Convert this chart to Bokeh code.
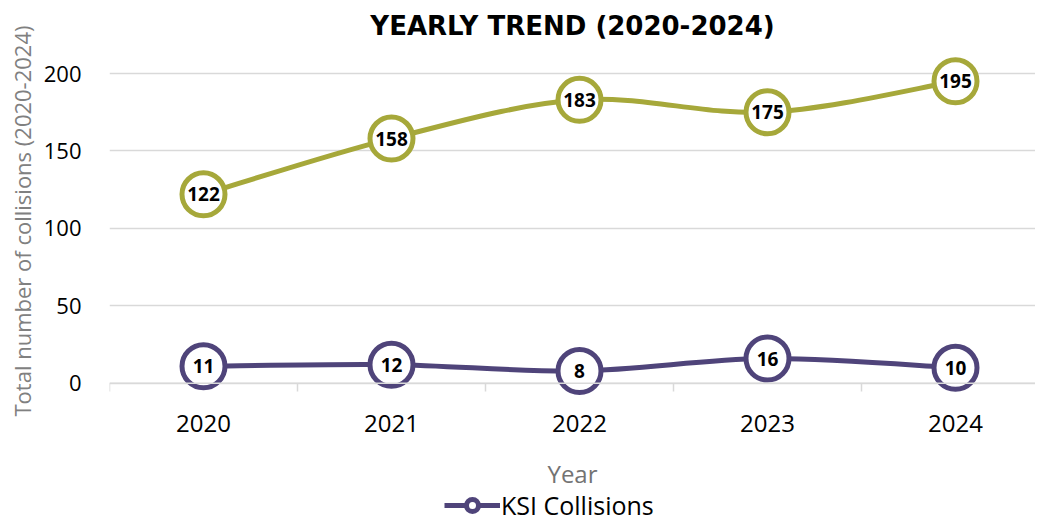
from bokeh.plotting import figure
from bokeh.models import (Range1d, FixedTicker, Span, Legend, LegendItem, ColumnDataSource, Title)
from bokeh.core.properties import value
from bokeh.embed import file_html
from bokeh.resources import INLINE

years = ["2020", "2021", "2022", "2023", "2024"]
total_collisions = [122, 158, 183, 175, 195]
ksi_collisions = [11, 12, 8, 16, 10]
y_ticks = [0, 50, 100, 150, 200]

OLIVE = "#a6a83a"
PURPLE = "#4f447a"
GRID = "#d9d9d9"
FONT = "Open Sans"

xs = list(range(len(years)))


def bezier_source(x, y):
    # Catmull-Rom style smoothing (like spreadsheet "smoothed line")
    n = len(x)
    d = dict(x0=[], y0=[], x1=[], y1=[], cx0=[], cy0=[], cx1=[], cy1=[])
    for i in range(n - 1):
        ip = max(i - 1, 0)
        inx = min(i + 2, n - 1)
        d["x0"].append(x[i]); d["y0"].append(y[i])
        d["x1"].append(x[i + 1]); d["y1"].append(y[i + 1])
        d["cx0"].append(x[i] + (x[i + 1] - x[ip]) / 6)
        d["cy0"].append(y[i] + (y[i + 1] - y[ip]) / 6)
        d["cx1"].append(x[i + 1] - (x[inx] - x[i]) / 6)
        d["cy1"].append(y[i + 1] - (y[inx] - y[i]) / 6)
    return ColumnDataSource(d)


FW = 926
p = figure(frame_width=FW, frame_height=481, output_backend="svg", toolbar_location=None,
           x_range=Range1d(-0.5, -0.5 + FW / 188), y_range=Range1d(-95, 215.5),
           min_border_left=0, min_border_right=0, min_border_top=0, min_border_bottom=0)
p.outline_line_color = None

p.title.text = "YEARLY TREND (2020-2024)"
p.title.align = "center"
p.title.text_font = "DejaVu Sans"
p.title.text_font_style = "bold"
p.title.text_font_size = "26px"
p.title.text_color = "black"
p.title.standoff = 17

# x axis sits on the zero line
p.xaxis.fixed_location = 0
p.xaxis.ticker = FixedTicker(ticks=xs, minor_ticks=[i - 0.5 for i in range(len(years) + 1)])
p.xaxis.major_label_overrides = {i: y for i, y in enumerate(years)}
p.xaxis.major_tick_line_color = None
p.xaxis.minor_tick_line_color = GRID
p.xaxis.minor_tick_line_width = 1.5
p.xaxis.minor_tick_in = 0
p.xaxis.minor_tick_out = 8
p.xaxis.axis_line_color = None
p.xaxis.major_label_text_font = FONT
p.xaxis.major_label_text_font_size = "24px"
p.xaxis.major_label_text_color = "black"
p.xaxis.major_label_standoff = 24
p.xaxis.axis_label = "Year"
p.xaxis.axis_label_text_font = FONT
p.xaxis.axis_label_text_font_style = "normal"
p.xaxis.axis_label_text_font_size = "24px"
p.xaxis.axis_label_text_color = "#737373"
p.xaxis.axis_label_standoff = 21

p.yaxis.ticker = FixedTicker(ticks=y_ticks)
p.yaxis.major_tick_line_color = None
p.yaxis.minor_tick_line_color = None
p.yaxis.axis_line_color = None
p.yaxis.major_label_text_font = FONT
p.yaxis.major_label_text_font_size = "22px"
p.yaxis.major_label_text_color = "black"
p.yaxis.major_label_standoff = 22

# y-axis title, anchored to the top of the plotting area
ytitle = Title(text="Total number of collisions (2020-2024)", align="right", offset=-24,
               text_font=FONT, text_font_style="normal", text_font_size="22px",
               text_color="#808080", standoff=8)
p.add_layout(ytitle, "left")

p.xgrid.grid_line_color = None
p.ygrid.grid_line_color = GRID
p.ygrid.grid_line_width = 1.5

p.add_layout(Span(location=0, dimension="width", line_color=GRID, line_width=1.5))

renderers = {}
for name, vals, col in [("total", total_collisions, OLIVE), ("ksi", ksi_collisions, PURPLE)]:
    b = p.bezier(x0="x0", y0="y0", x1="x1", y1="y1", cx0="cx0", cy0="cy0", cx1="cx1", cy1="cy1",
                 source=bezier_source(xs, vals), line_color=col, line_width=5)
    s = p.scatter(xs, vals, size=43, marker="circle", fill_color="white",
                  line_color=col, line_width=5)
    p.text(xs, vals, text=[str(v) for v in vals], text_align="center", text_baseline="middle",
           text_font=value(FONT), text_font_style="bold", text_font_size="19px",
           text_color="black")
    renderers[name] = (b, s)

legend = Legend(items=[LegendItem(label="KSI Collisions", renderers=list(renderers["ksi"]))],
                orientation="horizontal", location=(335, 8),
                border_line_color=None, background_fill_alpha=0,
                label_text_font=FONT, label_text_font_size="25px", label_text_color="black",
                glyph_width=56, glyph_height=30, padding=0, margin=0, label_standoff=1)
p.add_layout(legend)

open("out.html", "w").write(file_html(p, INLINE))
